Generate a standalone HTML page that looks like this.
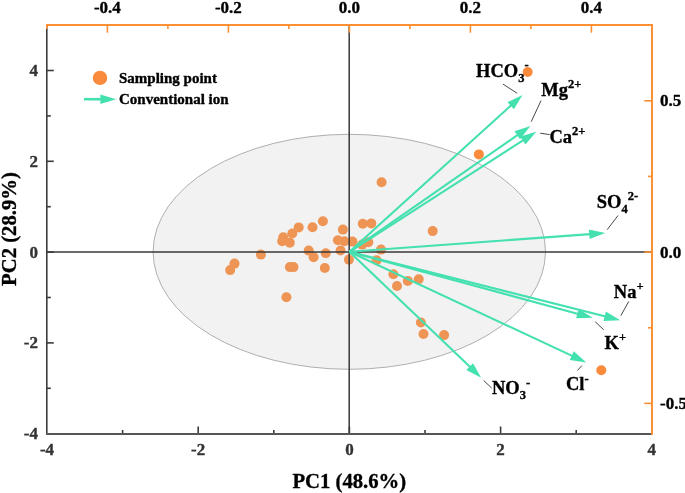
<!DOCTYPE html><html><head><meta charset="utf-8"><style>html,body{margin:0;padding:0;background:#fff;}svg{display:block;will-change:transform;}text{font-family:"Liberation Serif",serif;font-weight:bold;stroke:currentColor;stroke-width:0.35px;}</style></head><body>
<svg width="685" height="493" viewBox="0 0 685 493">
<g fill="#fb8b3c">
<circle cx="527.7" cy="72" r="5.0"/>
<circle cx="478.9" cy="154.4" r="5.0"/>
<circle cx="601.3" cy="370.3" r="5.0"/>
<circle cx="381.6" cy="182.3" r="5.0"/>
<circle cx="432.7" cy="231.1" r="5.0"/>
<circle cx="362.8" cy="223.8" r="5.0"/>
<circle cx="371.3" cy="223.4" r="5.0"/>
<circle cx="322.9" cy="221.2" r="5.0"/>
<circle cx="298.7" cy="227.4" r="5.0"/>
<circle cx="312.5" cy="227.3" r="5.0"/>
<circle cx="292.3" cy="233.5" r="5.0"/>
<circle cx="283.3" cy="237.3" r="5.0"/>
<circle cx="282.2" cy="241.2" r="5.0"/>
<circle cx="289.8" cy="242.7" r="5.0"/>
<circle cx="342.9" cy="229.6" r="5.0"/>
<circle cx="337.9" cy="240.3" r="5.0"/>
<circle cx="344.3" cy="241.3" r="5.0"/>
<circle cx="352.4" cy="241.6" r="5.0"/>
<circle cx="362.2" cy="244.6" r="5.0"/>
<circle cx="368.3" cy="242.3" r="5.0"/>
<circle cx="340.6" cy="250.5" r="5.0"/>
<circle cx="308.7" cy="250.6" r="5.0"/>
<circle cx="313.6" cy="257.3" r="5.0"/>
<circle cx="325.8" cy="253.2" r="5.0"/>
<circle cx="260.9" cy="254.6" r="5.0"/>
<circle cx="348.9" cy="259.6" r="5.0"/>
<circle cx="381" cy="249.6" r="5.0"/>
<circle cx="376.6" cy="260.2" r="5.0"/>
<circle cx="234.5" cy="263.6" r="5.0"/>
<circle cx="230.2" cy="270.1" r="5.0"/>
<circle cx="289.9" cy="267.1" r="5.0"/>
<circle cx="293.5" cy="267.1" r="5.0"/>
<circle cx="324.8" cy="268" r="5.0"/>
<circle cx="286.4" cy="297.3" r="5.0"/>
<circle cx="393.4" cy="274.2" r="5.0"/>
<circle cx="397" cy="286" r="5.0"/>
<circle cx="407.8" cy="280.9" r="5.0"/>
<circle cx="418.7" cy="279.3" r="5.0"/>
<circle cx="420.9" cy="322.5" r="5.0"/>
<circle cx="423.5" cy="334" r="5.0"/>
<circle cx="444.1" cy="335.1" r="5.0"/>
</g>
<ellipse cx="349.3" cy="251.8" rx="196.2" ry="117.5" fill="rgba(190,190,190,0.2)" stroke="#9c9c9c" stroke-width="0.8"/>
<line x1="46.8" y1="252.1" x2="652.0" y2="252.1" stroke="#383838" stroke-width="1.5"/>
<line x1="349.2" y1="25.0" x2="349.2" y2="434.0" stroke="#383838" stroke-width="1.5"/>
<line x1="349.5" y1="251.8" x2="511.4" y2="105.1" stroke="#44e0b0" stroke-width="2.1"/><polygon points="522.5,95.0 513.9,109.3 507.4,102.2" fill="#44e0b0"/>
<line x1="349.5" y1="251.8" x2="518.1" y2="134.7" stroke="#44e0b0" stroke-width="2.1"/><polygon points="530.4,126.1 520.0,139.2 514.5,131.3" fill="#44e0b0"/>
<line x1="349.5" y1="251.8" x2="523.7" y2="139.9" stroke="#44e0b0" stroke-width="2.1"/><polygon points="536.3,131.8 525.4,144.5 520.2,136.4" fill="#44e0b0"/>
<line x1="349.5" y1="251.8" x2="590.2" y2="234.1" stroke="#44e0b0" stroke-width="2.1"/><polygon points="605.2,233.0 589.6,239.0 588.9,229.4" fill="#44e0b0"/>
<line x1="349.5" y1="251.8" x2="605.7" y2="316.5" stroke="#44e0b0" stroke-width="2.1"/><polygon points="620.2,320.2 603.5,320.9 605.9,311.6" fill="#44e0b0"/>
<line x1="349.5" y1="251.8" x2="578.3" y2="313.9" stroke="#44e0b0" stroke-width="2.1"/><polygon points="592.8,317.8 576.1,318.2 578.6,309.0" fill="#44e0b0"/>
<line x1="349.5" y1="251.8" x2="572.7" y2="356.1" stroke="#44e0b0" stroke-width="2.1"/><polygon points="586.3,362.4 569.8,360.0 573.8,351.3" fill="#44e0b0"/>
<line x1="349.5" y1="251.8" x2="470.4" y2="367.3" stroke="#44e0b0" stroke-width="2.1"/><polygon points="481.2,377.7 466.3,370.1 473.0,363.2" fill="#44e0b0"/>
<g stroke="#333" stroke-width="0.9">
<line x1="503" y1="84.1" x2="517.2" y2="93.3"/>
<line x1="541.1" y1="100.5" x2="531.2" y2="121.7"/>
<line x1="540.2" y1="133.2" x2="549.6" y2="134.6"/>
<line x1="618" y1="215.5" x2="607.2" y2="229.7"/>
<line x1="628.8" y1="301.4" x2="620.8" y2="315.7"/>
<line x1="595.2" y1="321.7" x2="603.8" y2="329.9"/>
<line x1="581.9" y1="365.6" x2="577.4" y2="370.5"/>
<line x1="483.8" y1="380.6" x2="491.8" y2="388.2"/>
</g>
<text x="476.1" y="76.7" font-size="18.5" fill="#000">HCO<tspan font-size="12.5" dy="5">3</tspan><tspan font-size="12.5" dy="-12.5">-</tspan></text>
<text x="541.3000000000001" y="95.5" font-size="18.5" fill="#000">Mg<tspan font-size="12.5" dy="-7.5">2+</tspan></text>
<text x="549.4" y="142.8" font-size="18.5" fill="#000">Ca<tspan font-size="12.5" dy="-7.5">2+</tspan></text>
<text x="596.7" y="207.7" font-size="18.5" fill="#000">SO<tspan font-size="12.5" dy="5">4</tspan><tspan font-size="12.5" dy="-12.5">2-</tspan></text>
<text x="613.8000000000001" y="297.8" font-size="18.5" fill="#000">Na<tspan font-size="12.5" dy="-7.5">+</tspan></text>
<text x="604.6" y="348.5" font-size="18.5" fill="#000">K<tspan font-size="12.5" dy="-7.5">+</tspan></text>
<text x="566.0" y="390" font-size="18.5" fill="#000">Cl<tspan font-size="12.5" dy="-7.5">-</tspan></text>
<text x="492.0" y="394" font-size="18.5" fill="#000">NO<tspan font-size="12.5" dy="5">3</tspan><tspan font-size="12.5" dy="-12.5">-</tspan></text>
<line x1="122.6" y1="434.0" x2="122.6" y2="430.0" stroke="#3c3c3c" stroke-width="1.6"/>
<line x1="198.2" y1="434.0" x2="198.2" y2="426.5" stroke="#3c3c3c" stroke-width="1.6"/>
<line x1="273.8" y1="434.0" x2="273.8" y2="430.0" stroke="#3c3c3c" stroke-width="1.6"/>
<line x1="349.4" y1="434.0" x2="349.4" y2="426.5" stroke="#3c3c3c" stroke-width="1.6"/>
<line x1="425.0" y1="434.0" x2="425.0" y2="430.0" stroke="#3c3c3c" stroke-width="1.6"/>
<line x1="500.6" y1="434.0" x2="500.6" y2="426.5" stroke="#3c3c3c" stroke-width="1.6"/>
<line x1="576.2" y1="434.0" x2="576.2" y2="430.0" stroke="#3c3c3c" stroke-width="1.6"/>
<line x1="46.8" y1="388.3" x2="50.8" y2="388.3" stroke="#3c3c3c" stroke-width="1.6"/>
<line x1="46.8" y1="342.9" x2="53.8" y2="342.9" stroke="#3c3c3c" stroke-width="1.6"/>
<line x1="46.8" y1="297.5" x2="50.8" y2="297.5" stroke="#3c3c3c" stroke-width="1.6"/>
<line x1="46.8" y1="252.1" x2="53.8" y2="252.1" stroke="#3c3c3c" stroke-width="1.6"/>
<line x1="46.8" y1="206.7" x2="50.8" y2="206.7" stroke="#3c3c3c" stroke-width="1.6"/>
<line x1="46.8" y1="161.3" x2="53.8" y2="161.3" stroke="#3c3c3c" stroke-width="1.6"/>
<line x1="46.8" y1="115.9" x2="50.8" y2="115.9" stroke="#3c3c3c" stroke-width="1.6"/>
<line x1="46.8" y1="70.5" x2="53.8" y2="70.5" stroke="#3c3c3c" stroke-width="1.6"/>
<line x1="107.4" y1="25.0" x2="107.4" y2="32.7" stroke="#fd9032" stroke-width="1.6"/>
<line x1="167.9" y1="25.0" x2="167.9" y2="29.0" stroke="#fd9032" stroke-width="1.6"/>
<line x1="228.4" y1="25.0" x2="228.4" y2="32.7" stroke="#fd9032" stroke-width="1.6"/>
<line x1="288.9" y1="25.0" x2="288.9" y2="29.0" stroke="#fd9032" stroke-width="1.6"/>
<line x1="349.4" y1="25.0" x2="349.4" y2="32.7" stroke="#fd9032" stroke-width="1.6"/>
<line x1="409.9" y1="25.0" x2="409.9" y2="29.0" stroke="#fd9032" stroke-width="1.6"/>
<line x1="470.4" y1="25.0" x2="470.4" y2="32.7" stroke="#fd9032" stroke-width="1.6"/>
<line x1="530.9" y1="25.0" x2="530.9" y2="29.0" stroke="#fd9032" stroke-width="1.6"/>
<line x1="591.4" y1="25.0" x2="591.4" y2="32.7" stroke="#fd9032" stroke-width="1.6"/>
<line x1="652.0" y1="100.8" x2="644.3" y2="100.8" stroke="#fd9032" stroke-width="1.6"/>
<line x1="652.0" y1="176.4" x2="648.0" y2="176.4" stroke="#fd9032" stroke-width="1.6"/>
<line x1="652.0" y1="252.1" x2="644.3" y2="252.1" stroke="#fd9032" stroke-width="1.6"/>
<line x1="652.0" y1="327.8" x2="648.0" y2="327.8" stroke="#fd9032" stroke-width="1.6"/>
<line x1="652.0" y1="403.4" x2="644.3" y2="403.4" stroke="#fd9032" stroke-width="1.6"/>
<line x1="46.8" y1="25.0" x2="46.8" y2="434.0" stroke="#3c3c3c" stroke-width="1.6"/>
<line x1="46.0" y1="434.0" x2="652.0" y2="434.0" stroke="#565656" stroke-width="1.8"/>
<line x1="46.0" y1="25.0" x2="653.0" y2="25.0" stroke="#fd9032" stroke-width="2"/>
<line x1="652.0" y1="25.0" x2="652.0" y2="434.8" stroke="#fd9032" stroke-width="2"/>
<line x1="46.8" y1="24.0" x2="46.8" y2="29.0" stroke="#fd9032" stroke-width="1.6"/>
<text x="47.0" y="455" font-size="17" fill="#333" color="#333" text-anchor="middle">-4</text>
<text x="198.2" y="455" font-size="17" fill="#333" color="#333" text-anchor="middle">-2</text>
<text x="349.4" y="455" font-size="17" fill="#333" color="#333" text-anchor="middle">0</text>
<text x="500.6" y="455" font-size="17" fill="#333" color="#333" text-anchor="middle">2</text>
<text x="651.8" y="455" font-size="17" fill="#333" color="#333" text-anchor="middle">4</text>
<text x="38" y="76.0" font-size="17" fill="#333" color="#333" text-anchor="end">4</text>
<text x="38" y="166.8" font-size="17" fill="#333" color="#333" text-anchor="end">2</text>
<text x="38" y="257.6" font-size="17" fill="#333" color="#333" text-anchor="end">0</text>
<text x="38" y="348.4" font-size="17" fill="#333" color="#333" text-anchor="end">-2</text>
<text x="38" y="439.2" font-size="17" fill="#333" color="#333" text-anchor="end">-4</text>
<text x="107.4" y="13" font-size="17" fill="#000" text-anchor="middle">-0.4</text>
<text x="228.4" y="13" font-size="17" fill="#000" text-anchor="middle">-0.2</text>
<text x="349.4" y="13" font-size="17" fill="#000" text-anchor="middle">0.0</text>
<text x="470.4" y="13" font-size="17" fill="#000" text-anchor="middle">0.2</text>
<text x="591.4" y="13" font-size="17" fill="#000" text-anchor="middle">0.4</text>
<text x="660" y="106.3" font-size="17" fill="#000">0.5</text>
<text x="660" y="257.6" font-size="17" fill="#000">0.0</text>
<text x="660" y="408.9" font-size="17" fill="#000">-0.5</text>
<text x="349.3" y="488" font-size="20.7" fill="#000" text-anchor="middle">PC1 (48.6%)</text>
<text transform="translate(16,229) rotate(-90)" x="0" y="0" font-size="20.7" fill="#000" text-anchor="middle">PC2 (28.9%)</text>
<circle cx="100" cy="77.9" r="7.2" fill="#fb8b3c"/>
<line x1="84" y1="99.2" x2="101" y2="99.2" stroke="#44e0b0" stroke-width="2.6"/>
<polygon points="116.2,99.2 100.4,94.4 100.4,104" fill="#44e0b0"/>
<text x="119" y="83.4" font-size="15" fill="#000">Sampling point</text>
<text x="119" y="104.4" font-size="15" fill="#000">Conventional ion</text>
</svg></body></html>
